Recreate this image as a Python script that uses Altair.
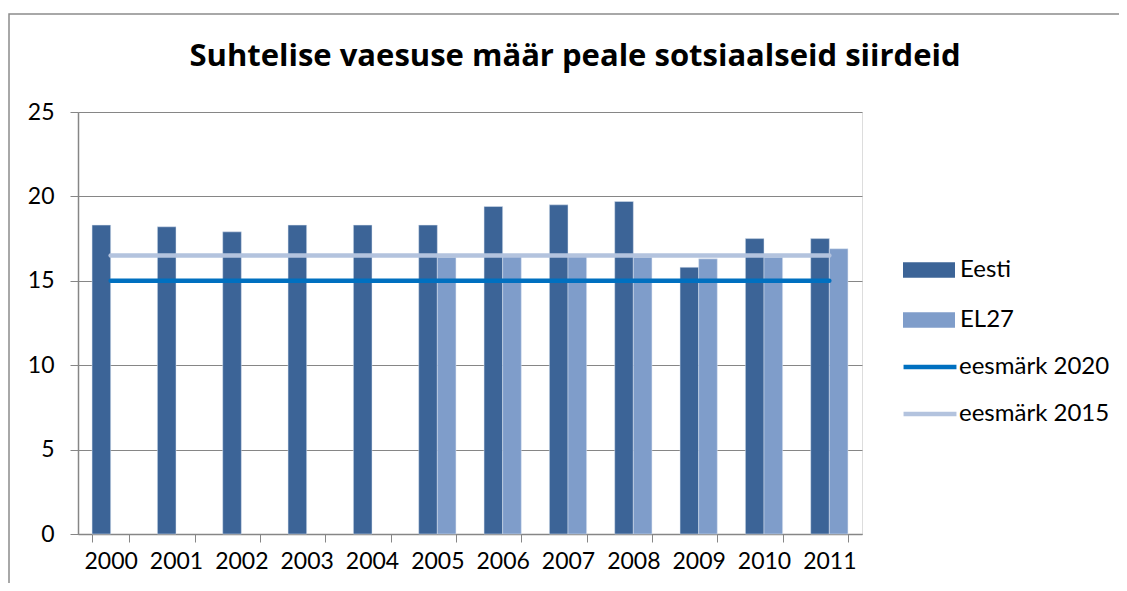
import altair as alt
import pandas as pd

years = ["2000", "2001", "2002", "2003", "2004", "2005", "2006", "2007", "2008", "2009", "2010", "2011"]
eesti = [18.3, 18.2, 17.9, 18.3, 18.3, 18.3, 19.4, 19.5, 19.7, 15.8, 17.5, 17.5]
el27 = [None, None, None, None, None, 16.4, 16.5, 16.5, 16.4, 16.3, 16.4, 16.9]
target_2020 = [15.0, 15.0, 15.0, 15.0, 15.0, 15.0, 15.0, 15.0, 15.0, 15.0, 15.0, 15.0]
target_2015 = [16.5, 16.5, 16.5, 16.5, 16.5, 16.5, 16.5, 16.5, 16.5, 16.5, 16.5, 16.5]

bar_series = ["Eesti", "EL27"]
line_series = ["eesmärk 2020", "eesmärk 2015"]
title_text = "Suhtelise vaesuse määr peale sotsiaalseid siirdeid"

bars = []
for y, a, b in zip(years, eesti, el27):
    if a is not None:
        bars.append({"year": y, "series": "Eesti", "value": a})
    if b is not None:
        bars.append({"year": y, "series": "EL27", "value": b})
bars_df = pd.DataFrame(bars)

lines = []
for y, a, b in zip(years, target_2020, target_2015):
    lines.append({"year": y, "target": "eesmärk 2020", "value": a})
    lines.append({"year": y, "target": "eesmärk 2015", "value": b})
lines_df = pd.DataFrame(lines)

FONT = "Lato"
GRAY = "#868686"

x_enc = alt.X(
    "year:N",
    sort=years,
    scale=alt.Scale(paddingInner=0.43, paddingOuter=0.215),
    axis=alt.Axis(
        title=None, labelAngle=0, tickBand="extent", domainColor=GRAY,
        tickColor=GRAY, tickSize=8, labelFontSize=23, labelFont=FONT,
        labelColor="#000000", labelPadding=8, domainWidth=1.5,
    ),
)
y_enc = alt.Y(
    "value:Q",
    scale=alt.Scale(domain=[0, 25], nice=False),
    axis=alt.Axis(
        title=None, values=[0, 5, 10, 15, 20, 25], grid=True, gridColor=GRAY,
        gridWidth=1.2, domainColor=GRAY, tickColor=GRAY, tickSize=8,
        labelFontSize=23, labelFont=FONT, labelColor="#000000", labelPadding=16,
        domainWidth=1.5,
    ),
)

bar_layer = alt.Chart(bars_df).mark_bar(stroke="#DCE4F0", strokeWidth=0.5).encode(
    x=x_enc,
    y=y_enc,
    xOffset=alt.XOffset("series:N", sort=bar_series, scale=alt.Scale(paddingInner=0, paddingOuter=0)),
    fill=alt.Fill(
        "series:N",
        scale=alt.Scale(domain=bar_series, range=["#3C6497", "#7F9DCA"]),
        legend=alt.Legend(
            title=None, orient="none", legendX=825, legendY=132,
            symbolType="M-1,-0.3H1V0.3H-1Z", symbolSize=2704, symbolStrokeWidth=0,
            labelFontSize=24, labelFont=FONT, labelColor="#000000",
            labelOffset=5, rowPadding=12, padding=0,
        ),
    ),
)

line_layer = alt.Chart(lines_df).mark_line(strokeWidth=4.5, strokeCap="round").encode(
    x=alt.X("year:N", sort=years),
    y=alt.Y("value:Q"),
    stroke=alt.Stroke(
        "target:N",
        sort=line_series,
        scale=alt.Scale(domain=line_series, range=["#0070C0", "#B3C3DE"]),
        legend=alt.Legend(
            title=None, orient="none", legendX=823, legendY=226,
            symbolType="stroke", symbolSize=2800, symbolStrokeWidth=4.5,
            labelFontSize=24, labelFont=FONT, labelColor="#000000",
            labelOffset=0, rowPadding=6, padding=0,
        ),
    ),
    detail="target:N",
)

frame = alt.Chart(alt.Data(values=[{}])).mark_rect(
    filled=False, stroke="#8C8C8C", strokeWidth=1.5
).encode(
    x=alt.value(-69), x2=alt.value(1070), y=alt.value(-98), y2=alt.value(500)
)

chart = alt.layer(frame, bar_layer, line_layer).resolve_legend(
    fill="independent", stroke="independent"
).properties(
    width=784,
    height=422,
    autosize=alt.AutoSizeParams(type="none"),
    padding={"left": 70, "top": 104, "right": 257, "bottom": 49},
    title=alt.Title(
        title_text, fontSize=31, font="Open Sans", fontWeight="bold", color="#000000",
        anchor="middle", frame="group", dx=105, baseline="alphabetic", offset=0, dy=84,
    ),
).configure_view(stroke=None).configure(background="#FFFFFF")

chart.save("out.html", embed_options={"renderer": "svg", "actions": False})
